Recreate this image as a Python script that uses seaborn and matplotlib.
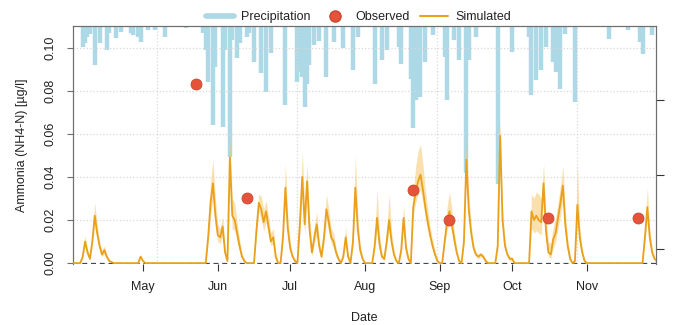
import matplotlib
matplotlib.use("Agg")
import matplotlib.pyplot as plt
import matplotlib.dates as mdates
from matplotlib.lines import Line2D
import pandas as pd
import seaborn as sns

YEAR = 2018

# ---------------- data ----------------
sim_dates = ["04-02", "04-05", "04-06", "04-07", "04-08", "04-09", "04-10", "04-11", "04-12", "04-13",
             "04-14", "04-15", "04-16", "04-17", "04-19", "04-29", "04-30", "05-01", "05-02", "05-27",
             "05-28", "05-29", "05-30", "05-31", "06-01", "06-02", "06-03", "06-04", "06-05", "06-06",
             "06-07", "06-08", "06-09", "06-10", "06-11", "06-12", "06-13", "06-16", "06-17", "06-18",
             "06-19", "06-20", "06-21", "06-22", "06-23", "06-24", "06-25", "06-26", "06-27", "06-28",
             "06-29", "06-30", "07-01", "07-02", "07-03", "07-04", "07-05", "07-06", "07-07", "07-08",
             "07-09", "07-10", "07-11", "07-12", "07-13", "07-14", "07-15", "07-16", "07-17", "07-18",
             "07-19", "07-20", "07-21", "07-22", "07-23", "07-24", "07-25", "07-26", "07-27", "07-28",
             "07-29", "07-30", "07-31", "08-01", "08-04", "08-05", "08-06", "08-07", "08-08", "08-09",
             "08-10", "08-11", "08-12", "08-13", "08-14", "08-15", "08-16", "08-17", "08-18", "08-19",
             "08-20", "08-21", "08-22", "08-23", "08-24", "08-25", "08-26", "08-27", "08-28", "08-29",
             "08-30", "08-31", "09-01", "09-02", "09-03", "09-04", "09-05", "09-06", "09-07", "09-08",
             "09-09", "09-10", "09-11", "09-12", "09-13", "09-14", "09-15", "09-16", "09-17", "09-18",
             "09-19", "09-20", "09-21", "09-24", "09-25", "09-26", "09-27", "09-28", "09-29", "09-30",
             "10-01", "10-02", "10-08", "10-09", "10-10", "10-11", "10-12", "10-13", "10-14", "10-15",
             "10-16", "10-17", "10-18", "10-19", "10-20", "10-21", "10-22", "10-23", "10-24", "10-25",
             "10-26", "10-27", "10-28", "10-29", "10-30", "10-31", "11-01", "11-24", "11-25", "11-26",
             "11-27", "11-28", "11-29", "11-30"]
sim_value = [0, 0, 0.003, 0.010, 0.005, 0.002, 0.010, 0.022, 0.014, 0.008,
             0.004, 0.006, 0.003, 0.001, 0, 0, 0.003, 0.001, 0, 0,
             0.012, 0.028, 0.037, 0.022, 0.013, 0.012, 0.017, 0.005, 0.001, 0.049,
             0.022, 0.020, 0.014, 0.008, 0.003, 0.001, 0, 0, 0.015, 0.028,
             0.025, 0.019, 0.024, 0.017, 0.010, 0.012, 0.003, 0, 0, 0.012,
             0.035, 0.016, 0.007, 0.003, 0.001, 0, 0.018, 0.040, 0.018, 0.038,
             0.016, 0.005, 0.012, 0.018, 0.008, 0.003, 0.012, 0.025, 0.019, 0.012,
             0.010, 0.005, 0.002, 0, 0.003, 0.012, 0.003, 0, 0.010, 0.035,
             0.016, 0.006, 0.002, 0, 0, 0.008, 0.021, 0.009, 0.003, 0.002,
             0.010, 0.020, 0.010, 0.004, 0.001, 0, 0.006, 0.021, 0.007, 0.002,
             0, 0.026, 0.033, 0.038, 0.041, 0.034, 0.026, 0.019, 0.013, 0.008,
             0.004, 0.001, 0, 0, 0.010, 0.019, 0.024, 0.018, 0.011, 0.005,
             0.001, 0, 0.010, 0.048, 0.025, 0.014, 0.007, 0.004, 0.003, 0.004,
             0.003, 0.001, 0, 0, 0.008, 0.059, 0.020, 0.008, 0.004, 0.002,
             0.002, 0, 0, 0.024, 0.020, 0.022, 0.020, 0.019, 0.037, 0.015,
             0.005, 0.004, 0.011, 0.014, 0.021, 0.028, 0.036, 0.018, 0.008, 0.002,
             0, 0.001, 0.027, 0.012, 0.005, 0.001, 0, 0, 0.012, 0.026,
             0.012, 0.005, 0.002, 0.001]
sim_low = [0, 0, 0.002, 0.008, 0.004, 0.001, 0.008, 0.018, 0.011, 0.006,
           0.003, 0.004, 0.002, 0.001, 0, 0, 0.002, 0.0005, 0, 0,
           0.009, 0.022, 0.030, 0.017, 0.010, 0.009, 0.013, 0.003, 0.0005, 0.040,
           0.016, 0.015, 0.010, 0.006, 0.002, 0, 0, 0, 0.012, 0.024,
           0.020, 0.015, 0.019, 0.013, 0.008, 0.009, 0.002, 0, 0, 0.009,
           0.028, 0.012, 0.005, 0.002, 0, 0, 0.014, 0.032, 0.013, 0.030,
           0.011, 0.003, 0.009, 0.013, 0.005, 0.002, 0.009, 0.020, 0.014, 0.009,
           0.007, 0.003, 0.001, 0, 0.002, 0.009, 0.002, 0, 0.008, 0.028,
           0.012, 0.004, 0.001, 0, 0, 0.006, 0.016, 0.006, 0.002, 0.001,
           0.008, 0.015, 0.007, 0.003, 0, 0, 0.004, 0.017, 0.005, 0.001,
           0, 0.022, 0.028, 0.032, 0.034, 0.028, 0.021, 0.015, 0.010, 0.006,
           0.003, 0, 0, 0, 0.008, 0.015, 0.019, 0.014, 0.008, 0.004,
           0, 0, 0.008, 0.040, 0.020, 0.011, 0.005, 0.003, 0.002, 0.003,
           0.002, 0, 0, 0, 0.006, 0.050, 0.016, 0.006, 0.003, 0.001,
           0.001, 0, 0, 0.016, 0.014, 0.015, 0.014, 0.013, 0.029, 0.010,
           0.003, 0.002, 0.007, 0.010, 0.016, 0.022, 0.029, 0.013, 0.005, 0.001,
           0, 0, 0.021, 0.009, 0.003, 0, 0, 0, 0.009, 0.021,
           0.009, 0.003, 0.001, 0]
sim_high = [0, 0, 0.004, 0.013, 0.007, 0.003, 0.014, 0.028, 0.018, 0.010,
            0.006, 0.008, 0.004, 0.002, 0, 0, 0.004, 0.0015, 0, 0,
            0.017, 0.038, 0.048, 0.030, 0.018, 0.016, 0.022, 0.008, 0.002, 0.060,
            0.030, 0.028, 0.019, 0.011, 0.005, 0.002, 0, 0, 0.020, 0.032,
            0.031, 0.025, 0.029, 0.022, 0.014, 0.016, 0.005, 0.001, 0, 0.017,
            0.046, 0.022, 0.010, 0.004, 0.002, 0, 0.025, 0.052, 0.026, 0.046,
            0.022, 0.008, 0.017, 0.024, 0.011, 0.005, 0.017, 0.032, 0.025, 0.016,
            0.014, 0.007, 0.003, 0.001, 0.005, 0.017, 0.005, 0, 0.015, 0.050,
            0.022, 0.009, 0.003, 0, 0, 0.012, 0.034, 0.014, 0.005, 0.003,
            0.016, 0.032, 0.015, 0.006, 0.002, 0, 0.008, 0.027, 0.010, 0.003,
            0, 0.032, 0.045, 0.052, 0.055, 0.046, 0.034, 0.025, 0.017, 0.011,
            0.006, 0.002, 0, 0, 0.014, 0.026, 0.033, 0.025, 0.015, 0.007,
            0.002, 0, 0.014, 0.060, 0.032, 0.018, 0.009, 0.005, 0.004, 0.005,
            0.004, 0.002, 0, 0, 0.012, 0.066, 0.026, 0.011, 0.005, 0.003,
            0.003, 0, 0, 0.032, 0.030, 0.033, 0.032, 0.030, 0.046, 0.022,
            0.010, 0.009, 0.017, 0.021, 0.028, 0.036, 0.045, 0.024, 0.011, 0.004,
            0, 0.002, 0.046, 0.017, 0.007, 0.002, 0, 0, 0.016, 0.035,
            0.016, 0.007, 0.003, 0.001]

obs_dates = ["05-23", "06-13", "08-21", "09-05", "10-16", "11-22"]
obs_value = [0.083, 0.030, 0.034, 0.020, 0.021, 0.021]

precip_dates = ["04-06", "04-07", "04-08", "04-09", "04-11", "04-13", "04-16", "04-17", "04-20", "04-22",
                "04-26", "04-27", "04-29", "04-30", "05-03", "05-06", "05-10", "05-19", "05-26", "05-27",
                "05-28", "05-30", "05-31", "06-03", "06-04", "06-06", "06-07", "06-09", "06-10", "06-13",
                "06-14", "06-16", "06-19", "06-21", "06-23", "06-29", "07-04", "07-05", "07-06", "07-07",
                "07-08", "07-09", "07-11", "07-13", "07-16", "07-19", "07-23", "07-27", "07-29", "08-05",
                "08-08", "08-10", "08-15", "08-16", "08-20", "08-21", "08-22", "08-24", "08-26", "08-29",
                "09-03", "09-04", "09-07", "09-09", "09-12", "09-13", "09-16", "09-25", "10-01", "10-08",
                "10-09", "10-11", "10-13", "10-15", "10-18", "10-19", "10-21", "10-23", "10-27", "11-10",
                "11-18", "11-23", "11-24", "11-28"]
precip_mm = [2.8, 2.3, 1.5, 1.1, 5.2, 2.3, 3.2, 1.0, 1.6, 0.8,
             1.0, 1.2, 1.5, 2.1, 0.5, 0.5, 1.5, 0.3, 1.0, 3.2,
             7.5, 13.3, 5.5, 13.6, 3.2, 17.6, 1.9, 4.3, 2.3, 1.5,
             1.0, 4.8, 6.3, 8.9, 3.6, 10.6, 7.5, 6.2, 6.8, 10.9,
             7.8, 5.2, 2.6, 2.0, 6.8, 2.1, 3.0, 5.9, 1.5, 7.8,
             4.6, 3.2, 2.8, 5.1, 7.1, 13.7, 9.9, 9.5, 4.8, 1.2,
             4.2, 9.9, 1.9, 4.6, 19.7, 4.6, 1.5, 21.3, 3.5, 1.5,
             9.3, 7.2, 5.9, 2.8, 4.8, 6.2, 8.5, 1.1, 10.2, 1.7,
             0.5, 2.1, 3.8, 1.2]

month_labels = ["May", "Jun", "Jul", "Aug", "Sep", "Oct", "Nov"]


def to_dt(lst):
    return pd.to_datetime([f"{YEAR}-{d}" for d in lst])


sim = pd.DataFrame({"date": to_dt(sim_dates), "value": sim_value,
                    "low": sim_low, "high": sim_high})
obs = pd.DataFrame({"date": to_dt(obs_dates), "value": obs_value})
prc = pd.DataFrame({"date": to_dt(precip_dates), "mm": precip_mm})

# ---------------- style ----------------
sns.set_theme(style="white")
plt.rcParams["font.family"] = ["Liberation Sans", "DejaVu Sans"]
plt.rcParams["font.size"] = 9
plt.rcParams["text.color"] = "#222222"
plt.rcParams["axes.labelcolor"] = "#222222"
plt.rcParams["xtick.color"] = "#222222"
plt.rcParams["ytick.color"] = "#222222"

C_PRE = "#ADD8E6"
C_OBS = "#E5533B"
C_SIM = "#E9A11B"
C_BAND = "#F6C35F"
C_SPINE = "#6E6E6E"

fig = plt.figure(figsize=(6.73, 3.25), dpi=100)
ax = fig.add_axes([0.1085, 0.1877, 0.8662, 0.7323])
ax2 = ax.twinx()
ax.set_zorder(ax2.get_zorder() + 1)
ax.patch.set_visible(False)

# precipitation (hanging from top, right axis inverted)
ax2.vlines(prc["date"], 0, prc["mm"], color=C_PRE, lw=3.2)
ax2.set_ylim(32, 0)
ax2.set_yticks([10, 20, 30])
ax2.set_yticklabels([])
ax2.tick_params(axis="y", direction="out", length=6, color="#333333", width=0.8)

# grid
for yv in [0.02, 0.04, 0.06, 0.08, 0.10]:
    ax.axhline(yv, color="#d8d8d8", ls=":", lw=0.9, zorder=0)
for gd in ["05-07", "07-04", "08-31", "10-28"]:
    ax.axvline(pd.Timestamp(f"{YEAR}-{gd}"), color="#d8d8d8", ls=":", lw=0.9, zorder=0)
ax.axhline(0, color="#3c4b5c", ls=(0, (4, 3)), lw=0.9, zorder=1)

# simulated band + line
ax.fill_between(sim["date"], sim["low"], sim["high"], color=C_BAND, alpha=0.5, lw=0, zorder=2)
sns.lineplot(data=sim, x="date", y="value", ax=ax, color=C_SIM, lw=1.3, zorder=3)

# observed
sns.scatterplot(data=obs, x="date", y="value", ax=ax, color=C_OBS, s=62,
                edgecolor="#C9472F", linewidth=0.6, zorder=5)

# axes
ax.set_xlim(pd.Timestamp(f"{YEAR}-04-02"), pd.Timestamp(f"{YEAR}-11-29 14:00"))
ax.set_ylim(-0.0004, 0.11)
ax.set_yticks([0, 0.02, 0.04, 0.06, 0.08, 0.10])
ax.set_yticklabels([f"{v:.2f}" for v in [0, 0.02, 0.04, 0.06, 0.08, 0.10]],
                   rotation=90, va="center")
ax.xaxis.set_major_locator(mdates.MonthLocator(bymonth=range(5, 12)))
ax.xaxis.set_major_formatter(mdates.DateFormatter("%b"))
ax.tick_params(axis="x", direction="out", length=5, color="#333333", width=0.8,
               pad=7, labelsize=9, bottom=True)
ax.tick_params(axis="y", direction="out", length=4, color=C_SPINE, width=0.8,
               pad=8, labelsize=9, left=True)
ax.set_xlabel("Date", fontsize=9, labelpad=14)
ax.set_ylabel("Ammonia (NH4-N) [µg/l]", fontsize=9, labelpad=12)

for a in (ax, ax2):
    a.spines["bottom"].set_visible(False)
    for s in ("left", "top", "right"):
        a.spines[s].set_color(C_SPINE)
        a.spines[s].set_linewidth(0.8)

handles = [Line2D([0], [0], color=C_PRE, lw=4),
           Line2D([0], [0], marker="o", ls="", markerfacecolor=C_OBS,
                  markeredgecolor="#C9472F", markersize=8),
           Line2D([0], [0], color=C_SIM, lw=1.5)]
ax.legend(handles, ["Precipitation", "Observed", "Simulated"], loc="lower center",
          bbox_to_anchor=(0.49, 0.985), ncol=3, frameon=False, fontsize=9,
          handlelength=2.2, columnspacing=0.8, handletextpad=0.6, borderaxespad=0.1)

fig.savefig("out.png", dpi=100)
